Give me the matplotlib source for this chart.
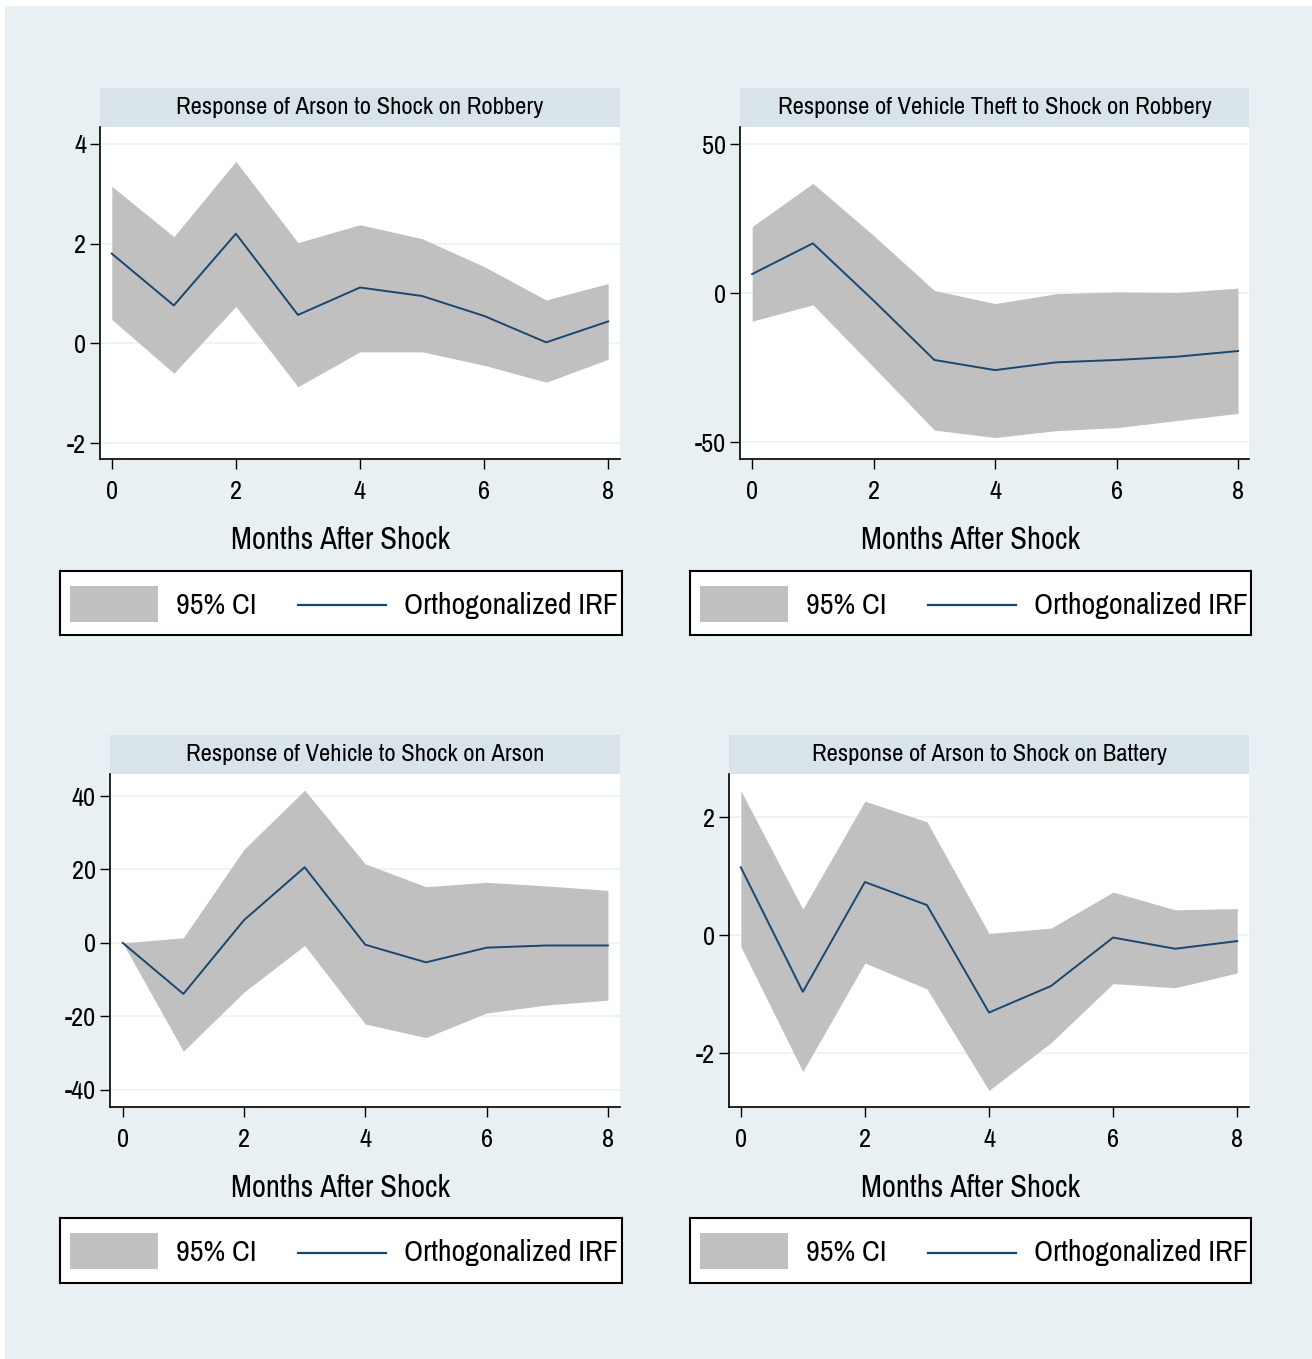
import matplotlib.pyplot as plt
from matplotlib.patches import Rectangle
from matplotlib import font_manager

# Data
steps = [0, 1, 2, 3, 4, 5, 6, 7, 8]

titles = ['Response of Arson to Shock on Robbery',
          'Response of Vehicle Theft to Shock on Robbery',
          'Response of Vehicle to Shock on Arson',
          'Response of Arson to Shock on Battery']

irf_arson_robbery = [1.80, 0.76, 2.20, 0.57, 1.12, 0.95, 0.55, 0.02, 0.44]
upper_arson_robbery = [3.15, 2.14, 3.65, 2.02, 2.38, 2.10, 1.54, 0.87, 1.20]
lower_arson_robbery = [0.48, -0.60, 0.74, -0.87, -0.17, -0.17, -0.44, -0.78, -0.32]

irf_vehicle_robbery = [6.4, 16.7, -2.5, -22.4, -25.8, -23.2, -22.4, -21.3, -19.4]
upper_vehicle_robbery = [22.3, 36.8, 19.3, 0.9, -3.5, -0.2, 0.4, 0.2, 1.7]
lower_vehicle_robbery = [-9.4, -3.9, -24.8, -45.9, -48.4, -46.1, -45.1, -42.7, -40.3]

irf_vehicle_arson = [0.0, -13.9, 6.2, 20.6, -0.5, -5.3, -1.3, -0.7, -0.7]
upper_vehicle_arson = [0.0, 1.4, 25.5, 41.6, 21.5, 15.3, 16.5, 15.5, 14.3]
lower_vehicle_arson = [0.0, -29.5, -13.4, -0.7, -22.1, -25.8, -19.1, -16.9, -15.6]

irf_arson_battery = [1.15, -0.96, 0.90, 0.51, -1.31, -0.86, -0.04, -0.23, -0.10]
upper_arson_battery = [2.45, 0.44, 2.27, 1.92, 0.03, 0.12, 0.73, 0.43, 0.45]
lower_arson_battery = [-0.19, -2.31, -0.47, -0.91, -2.63, -1.82, -0.82, -0.89, -0.64]

yticks = [[-2, 0, 2, 4], [-50, 0, 50], [-40, -20, 0, 20, 40], [-2, 0, 2]]
ylims = [(-2.32, 4.34), (-55.6, 55.7), (-44.7, 46.0), (-2.91, 2.73)]

panels = [(irf_arson_robbery, lower_arson_robbery, upper_arson_robbery),
          (irf_vehicle_robbery, lower_vehicle_robbery, upper_vehicle_robbery),
          (irf_vehicle_arson, lower_vehicle_arson, upper_vehicle_arson),
          (irf_arson_battery, lower_arson_battery, upper_arson_battery)]

# Font: a narrow sans (Stata look)
names = {f.name for f in font_manager.fontManager.ttflist}
for cand in ['Liberation Sans Narrow', 'Arial Narrow', 'Archivo Narrow', 'Roboto Condensed']:
    if cand in names:
        plt.rcParams['font.family'] = [cand, 'DejaVu Sans']
        break
plt.rcParams['axes.unicode_minus'] = False

W, H = 1312, 1359
BG = '#e8f0f3'
STRIP = '#d8e4ea'
FILL = '#c0c0c0'
NAVY = '#1a476f'

fig = plt.figure(figsize=(W / 100, H / 100), dpi=100, facecolor='white')
fig.patches.append(Rectangle((5 / W, 0), 1 - 5 / W, 1 - 6 / H,
                             transform=fig.transFigure, facecolor=BG,
                             edgecolor='none', zorder=-10))


def box(x0, y0, x1, y1):
    return [x0 / W, 1 - y1 / H, (x1 - x0) / W, (y1 - y0) / H]


# (plot left, plot right, strip top, plot top, plot bottom, legend left, legend right, legend top, legend bottom)
layout = [(100, 620, 88, 127, 459, 60, 622, 571, 635),
          (740, 1249, 88, 127, 459, 690, 1251, 571, 635),
          (110, 620, 735, 774, 1107, 60, 622, 1218, 1283),
          (729, 1249, 735, 774, 1107, 690, 1251, 1218, 1283)]
xlims = [(-0.19, 8.19), (-0.2, 8.18), (-0.21, 8.2), (-0.19, 8.19)]

for i, (irf, lo, up) in enumerate(panels):
    pl, pr, st, pt, pb, ll, lr, lt, lb = layout[i]

    # title strip
    sax = fig.add_axes(box(pl, st, pr, pt))
    sax.set_facecolor(STRIP)
    sax.set_xticks([])
    sax.set_yticks([])
    for s in sax.spines.values():
        s.set_visible(False)
    sax.text(0.5, 0.5, titles[i], ha='center', va='center', fontsize=17.8)

    ax = fig.add_axes(box(pl, pt, pr, pb))
    ax.set_facecolor('white')
    ax.fill_between(steps, lo, up, color=FILL, linewidth=0, zorder=2)
    ax.plot(steps, irf, color=NAVY, linewidth=1.4, zorder=3)
    ax.set_xlim(*xlims[i])
    ax.set_ylim(*ylims[i])
    ax.set_xticks([0, 2, 4, 6, 8])
    ax.set_yticks(yticks[i])
    ax.grid(axis='y', color='#eaf2f3', linewidth=1.2, zorder=1)
    ax.set_axisbelow(True)
    for s in ['top', 'right']:
        ax.spines[s].set_visible(False)
    for s in ['left', 'bottom']:
        ax.spines[s].set_color('black')
        ax.spines[s].set_linewidth(1.2)
    ax.tick_params(axis='both', labelsize=19, length=7, width=1, direction='out')
    ax.tick_params(axis='x', pad=8)
    ax.tick_params(axis='y', pad=3)
    ax.set_xlabel('Months After Shock', fontsize=22)
    ax.xaxis.set_label_coords(((ll + lr) / 2 - pl) / (pr - pl), -81 / (pb - pt))
    ax.xaxis.label.set_va('center')

    # legend box
    lax = fig.add_axes(box(ll, lt, lr, lb))
    lax.set_xlim(ll, lr)
    lax.set_ylim(lb, lt)
    lax.set_facecolor('white')
    lax.set_xticks([])
    lax.set_yticks([])
    for s in lax.spines.values():
        s.set_color('black')
        s.set_linewidth(1.5)
    cy = (lt + lb) / 2 + 2
    lax.add_patch(Rectangle((ll + 10, lt + 15), 88, 36, facecolor=FILL, edgecolor='none'))
    lax.text(ll + 116, cy, '95% CI', fontsize=21.5, va='center', ha='left')
    lax.plot([ll + 238, ll + 326], [cy, cy], color=NAVY, linewidth=1.6)
    lax.text(ll + 344, cy, 'Orthogonalized IRF', fontsize=21.5, va='center', ha='left')

fig.savefig('out.png', dpi=100, facecolor=fig.get_facecolor())
